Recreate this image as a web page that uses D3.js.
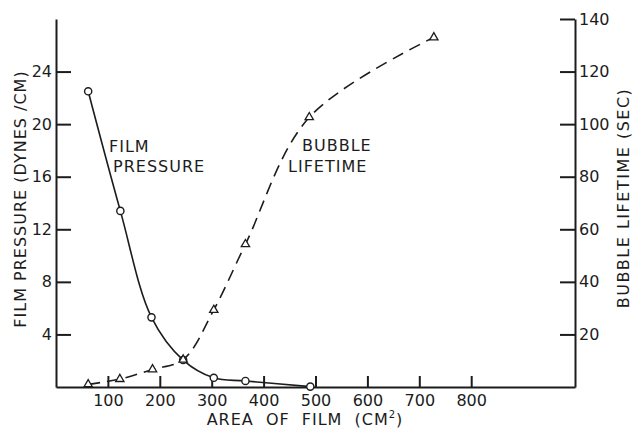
<!DOCTYPE html>
<html>
<head>
<meta charset="utf-8">
<script src="https://cdn.jsdelivr.net/npm/d3@7"></script>
<style>
  html, body { margin: 0; padding: 0; background: #fff; }
  svg { display: block; }
  text { font-family: "DejaVu Sans", sans-serif; fill: #1c1c1c; }
</style>
</head>
<body>
<svg id="chart" width="633" height="430"></svg>
<script>
// Area of film (cm²) at which each reading was taken
const pressureArea = [62, 124, 184, 245, 304, 365, 490];
// Film pressure (dynes/cm)
const pressureValues = [22.5, 13.4, 5.3, 2.05, 0.7, 0.46, 0.03];

const lifetimeArea = [62, 123, 186, 245, 304, 365, 488, 728];
// Bubble lifetime (sec)
const lifetimeValues = [1.0, 3.0, 6.7, 10.4, 29.3, 54.3, 102.6, 133];

const xTicks = [100, 200, 300, 400, 500, 600, 700, 800];
const pressureTicks = [4, 8, 12, 16, 20, 24];
const lifetimeTicks = [20, 40, 60, 80, 100, 120, 140];

const ink = "#1c1c1c";
const svg = d3.select("#chart");

const x = d3.scaleLinear().domain([0, 1000]).range([56, 575]);
const yP = d3.scaleLinear().domain([0, 28]).range([387, 19]);
const yL = d3.scaleLinear().domain([0, 140]).range([387, 19]);

function styleAxis(g) {
  g.selectAll("path.domain").attr("stroke", ink).attr("stroke-width", 2);
  g.selectAll(".tick line").attr("stroke", ink).attr("stroke-width", 2);
  g.selectAll(".tick text")
    .attr("font-family", "DejaVu Sans, sans-serif")
    .attr("font-size", 16)
    .attr("fill", ink);
}

// Bottom axis, ticks pointing up into the plot
svg.append("g")
  .attr("transform", "translate(0,387)")
  .call(d3.axisBottom(x).tickValues(xTicks).tickSizeInner(-11).tickSizeOuter(0).tickPadding(8))
  .call(styleAxis);

// Left axis (film pressure), ticks pointing right
svg.append("g")
  .attr("transform", "translate(56,0)")
  .call(d3.axisLeft(yP).tickValues(pressureTicks).tickSizeInner(-15).tickSizeOuter(0).tickPadding(4))
  .call(styleAxis);

// Right axis (bubble lifetime), ticks pointing left
svg.append("g")
  .attr("transform", "translate(575,0)")
  .call(d3.axisRight(yL).tickValues(lifetimeTicks).tickSizeInner(-15).tickSizeOuter(0).tickPadding(4))
  .call(styleAxis);

// Curves
const pressurePts = pressureArea.map((a, i) => [x(a), yP(pressureValues[i])]);
const lifetimePts = lifetimeArea.map((a, i) => [x(a), yL(lifetimeValues[i])]);
const smooth = d3.line().curve(d3.curveCatmullRom.alpha(0.5));

svg.append("path")
  .attr("d", smooth(pressurePts))
  .attr("fill", "none").attr("stroke", ink).attr("stroke-width", 1.6);

svg.append("path")
  .attr("d", smooth(lifetimePts))
  .attr("fill", "none").attr("stroke", ink).attr("stroke-width", 1.6)
  .attr("stroke-dasharray", "12,7");

// Markers
svg.selectAll("circle.p")
  .data(pressurePts)
  .join("circle")
  .attr("class", "p")
  .attr("cx", d => d[0]).attr("cy", d => d[1]).attr("r", 3.6)
  .attr("fill", "#fff").attr("stroke", ink).attr("stroke-width", 1.4);

const tri = d3.symbol().type(d3.symbolTriangle).size(30);
svg.selectAll("path.l")
  .data(lifetimePts)
  .join("path")
  .attr("class", "l")
  .attr("d", tri)
  .attr("transform", d => `translate(${d[0]},${d[1]})`)
  .attr("fill", "#fff").attr("stroke", ink).attr("stroke-width", 1.3);

// Curve labels
const lab = (tx, ty, s) => svg.append("text")
  .attr("x", tx).attr("y", ty)
  .attr("font-size", 16).attr("letter-spacing", 1)
  .text(s);
lab(109, 152, "FILM");
lab(113, 172, "PRESSURE");
lab(302, 151, "BUBBLE");
lab(288, 172, "LIFETIME");

// Axis titles
const xt = svg.append("text")
  .attr("x", 305).attr("y", 425)
  .attr("text-anchor", "middle")
  .attr("font-size", 16).attr("letter-spacing", 1).attr("word-spacing", 6);
xt.append("tspan").text("AREA OF FILM (CM");
xt.append("tspan").attr("font-size", 10).attr("dy", -7).text("2");
xt.append("tspan").attr("dy", 7).text(")");

svg.append("text")
  .attr("transform", "translate(26,199) rotate(-90)")
  .attr("text-anchor", "middle")
  .attr("font-size", 16).attr("letter-spacing", 1)
  .text("FILM PRESSURE (DYNES /CM)");

svg.append("text")
  .attr("transform", "translate(629,198) rotate(-90)")
  .attr("text-anchor", "middle")
  .attr("font-size", 16).attr("letter-spacing", 1.5)
  .text("BUBBLE LIFETIME (SEC)");
</script>
</body>
</html>
